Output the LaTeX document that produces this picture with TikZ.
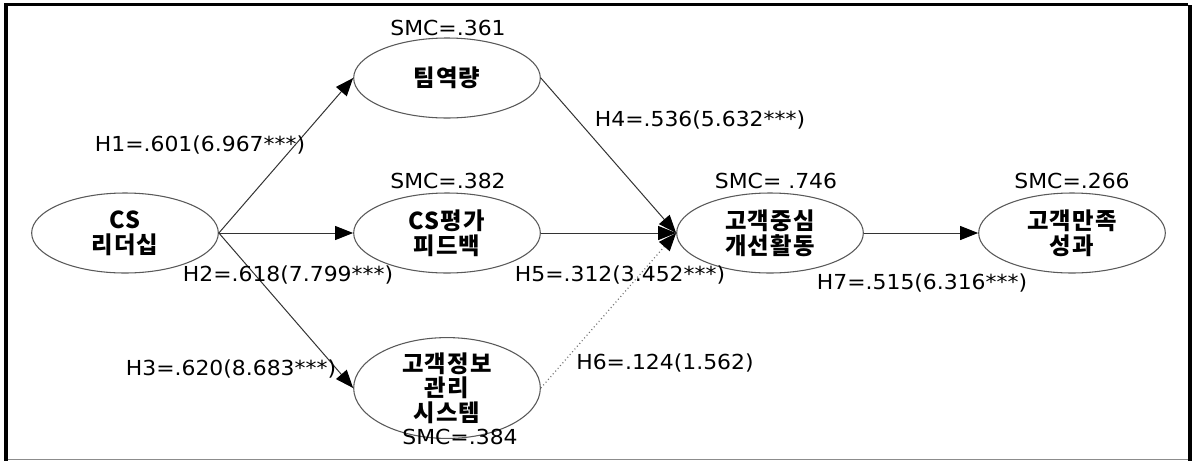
\documentclass[tikz,border=0pt]{standalone}
\usepackage{fontspec}
\setmainfont{DejaVu Sans}[FakeStretch=1.06]
\newfontfamily\kr{Noto Sans CJK KR}[LetterSpace=5]
\usetikzlibrary{shapes.geometric,arrows.meta}

\tikzset{
  latent/.style={ellipse, draw=black!65, line width=0.8pt, fill=white,
    minimum width=140pt, minimum height=60pt, inner sep=0pt, align=center,
    font=\kr\bfseries\fontsize{17.5}{18.5}\selectfont},
  coef/.style={font=\fontsize{15.5}{18}\selectfont, inner sep=0pt},
  path/.style={draw=black!80, line width=0.75pt,
    -{Triangle[length=13.5pt, width=10.5pt, color=black]}},
  weakpath/.style={path, draw=black!55, dotted, line width=0.9pt}
}

\begin{document}
\begin{tikzpicture}[x=0.75pt, y=-0.75pt]
  \useasboundingbox (0,0) rectangle (1192,461);

  % frame
  \fill[black] (4,3) rectangle (8,461);
  \fill[black] (4,3) rectangle (1188,6);
  \fill[black] (1188,5) rectangle (1192,461);
  \draw[black!45, line width=0.8pt] (8,459.5) -- (1188,459.5);

  % latent constructs
  \node[latent] (cs)   at (125,233) {CS\\리더십};
  \node[latent] (team) at (447,78)  {팀역량};
  \node[latent] (fb)   at (447,233) {CS평가\\피드백};
  \node[latent] (gis)  at (447,388) {고객정보\\관리\\시스템};
  \node[latent] (imp)  at (770,233) {고객중심\\개선활동};
  \node[latent] (sat)  at (1072,233) {고객만족\\성과};

  % squared multiple correlations
  \node[coef] (smc1) at (448,28)  {SMC=.361};
  \node[coef] (smc2) at (448,181) {SMC=.382};
  \node[coef] (smc3) at (460,437) {SMC=.384};
  \node[coef] (smc4) at (776,181) {SMC= .746};
  \node[coef] (smc5) at (1072,181) {SMC=.266};

  % structural paths
  \draw[path] (cs.east) -- (team.west);
  \draw[path] (cs.east) -- (fb.west);
  \draw[path] (cs.east) -- (gis.west);
  \draw[path] (team.east) -- (imp.west);
  \draw[path] (fb.east) -- (imp.west);
  \draw[weakpath] (gis.east) -- (imp.west);
  \draw[path] (imp.east) -- (sat.west);

  % path coefficients
  \node[coef] (h1) at (200,145) {H1=.601(6.967***)};
  \node[coef] (h2) at (288,275) {H2=.618(7.799***)};
  \node[coef] (h3) at (231,369) {H3=.620(8.683***)};
  \node[coef] (h4) at (700,120) {H4=.536(5.632***)};
  \node[coef] (h5) at (620,275) {H5=.312(3.452***)};
  \node[coef] (h6) at (665,363) {H6=.124(1.562)};
  \node[coef] (h7) at (922,283) {H7=.515(6.316***)};
\end{tikzpicture}
\end{document}
